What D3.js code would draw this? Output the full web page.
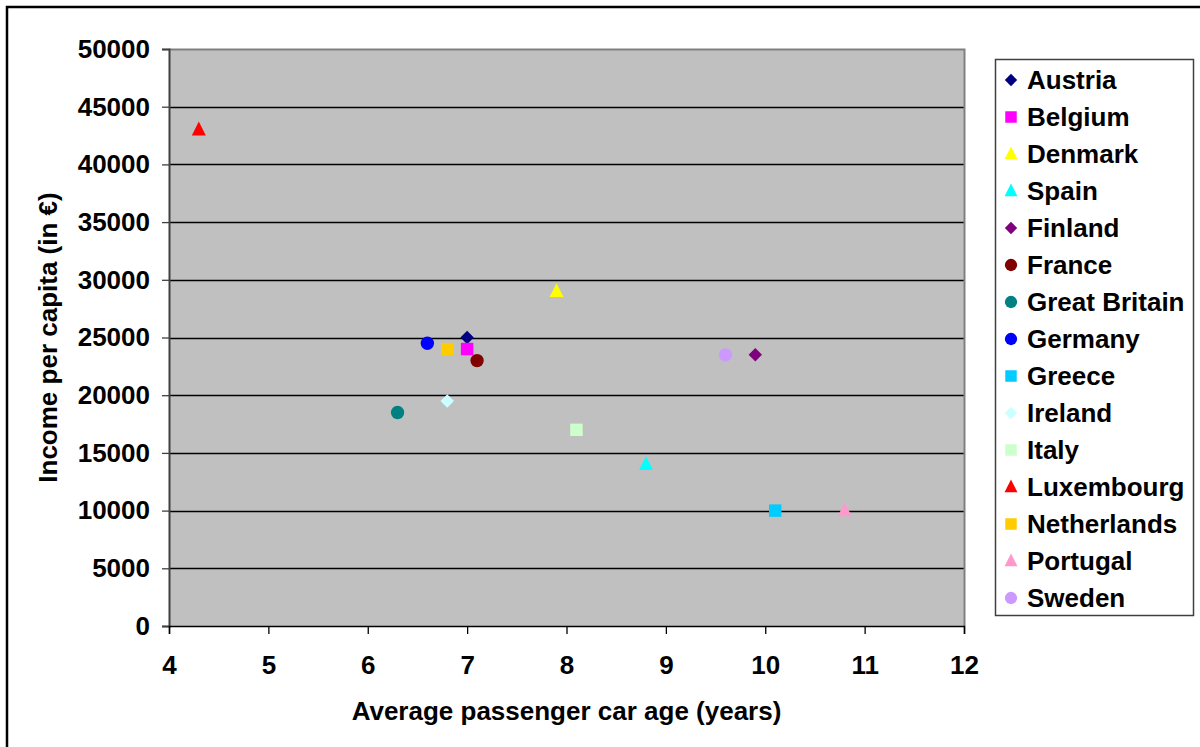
<!DOCTYPE html>
<html>
<head>
<meta charset="utf-8">
<script src="https://cdn.jsdelivr.net/npm/d3@7"></script>
<style>
  html, body { margin: 0; padding: 0; background: #fff; }
  svg { display: block; }
  text { font-family: "Liberation Sans", Arial, sans-serif; font-weight: bold; fill: #000; }
</style>
</head>
<body>
<svg id="chart" width="1200" height="747"></svg>
<script>
// Countries, their average car age (years) and income per capita (EUR)
const countries = ["Austria", "Belgium", "Denmark", "Spain", "Finland", "France", "Great Britain",
  "Germany", "Greece", "Ireland", "Italy", "Luxembourg", "Netherlands", "Portugal", "Sweden"];
const carAge = [7.0, 7.0, 7.9, 8.8, 9.9, 7.1, 6.3, 6.6, 10.1, 6.8, 8.1, 4.3, 6.8, 10.8, 9.6];
const income = [25000, 24000, 29000, 14000, 23500, 23000, 18500, 24500, 10000, 19500, 17000, 43000, 24000, 10000, 23500];
const markerShapes = ["diamond", "square", "triangle", "triangle", "diamond", "circle", "circle",
  "circle", "square", "diamond", "square", "triangle", "square", "triangle", "circle"];
const markerColors = ["#000080", "#FF00FF", "#FFFF00", "#00FFFF", "#800080", "#800000", "#008080",
  "#0000FF", "#00CCFF", "#CCFFFF", "#CCFFCC", "#FF0000", "#FFCC00", "#FF99CC", "#CC99FF"];
const xTicks = [4, 5, 6, 7, 8, 9, 10, 11, 12];
const yTicks = [0, 5000, 10000, 15000, 20000, 25000, 30000, 35000, 40000, 45000, 50000];

const svg = d3.select("#chart");

// Outer chart frame (runs off the right and bottom edges)
svg.append("rect")
  .attr("x", 7).attr("y", 7).attr("width", 1300).attr("height", 800)
  .attr("fill", "none").attr("stroke", "#000").attr("stroke-width", 2.5);

const plot = { left: 169, right: 964, top: 49, bottom: 626 };
const x = d3.scaleLinear().domain([4, 12]).range([plot.left, plot.right]);
const y = d3.scaleLinear().domain([0, 50000]).range([plot.bottom, plot.top]);

// Plot background
svg.append("rect")
  .attr("x", plot.left).attr("y", plot.top)
  .attr("width", plot.right - plot.left).attr("height", plot.bottom - plot.top)
  .attr("fill", "#C0C0C0");

// Horizontal gridlines
svg.append("g").selectAll("line")
  .data(yTicks.filter(t => t > 0 && t < 50000))
  .join("line")
  .attr("x1", plot.left).attr("x2", plot.right)
  .attr("y1", d => Math.round(y(d)) + 0.5).attr("y2", d => Math.round(y(d)) + 0.5)
  .attr("stroke", "#000").attr("stroke-width", 1.3);

// Top and right edges of plot area
svg.append("path")
  .attr("d", `M${plot.left},${plot.top + 0.5}H${plot.right + 0.5}V${plot.bottom}`)
  .attr("fill", "none").attr("stroke", "#808080").attr("stroke-width", 2);

// Y axis
const yAxis = svg.append("g")
  .attr("transform", `translate(${plot.left},0)`)
  .call(d3.axisLeft(y).tickValues(yTicks).tickFormat(d3.format("d")).tickSizeOuter(0).tickSize(7).tickPadding(12));
yAxis.select(".domain").attr("stroke", "#404040").attr("stroke-width", 2);
yAxis.selectAll(".tick line").attr("stroke", "#404040").attr("stroke-width", 1.3);
yAxis.selectAll("text").style("font-size", "26px").style("font-family", "'Liberation Sans', Arial, sans-serif")
  .style("font-weight", "bold").attr("fill", "#000");

// X axis
const xAxis = svg.append("g")
  .attr("transform", `translate(0,${plot.bottom})`)
  .call(d3.axisBottom(x).tickValues(xTicks).tickFormat(d3.format("d")).tickSizeOuter(0).tickSize(8).tickPadding(22));
xAxis.select(".domain").attr("stroke", "#000").attr("stroke-width", 1.5);
xAxis.selectAll(".tick line").attr("stroke", "#000").attr("stroke-width", 1.3);
xAxis.selectAll("text").style("font-size", "26px").style("font-family", "'Liberation Sans', Arial, sans-serif")
  .style("font-weight", "bold").attr("fill", "#000");

// Axis titles
svg.append("text")
  .attr("x", (plot.left + plot.right) / 2).attr("y", 720)
  .attr("text-anchor", "middle").style("font-size", "26px")
  .text("Average passenger car age (years)");
svg.append("text")
  .attr("transform", `translate(57,${(plot.top + plot.bottom) / 2}) rotate(-90)`)
  .attr("text-anchor", "middle").style("font-size", "26px")
  .text("Income per capita (in €)");

// Marker generator: diamonds are rotated squares, triangles stretched slightly taller
function markerPath(shape, scale) {
  const s = scale || 1;
  if (shape === "diamond") return d3.symbol().type(d3.symbolSquare).size(90 * s)();
  if (shape === "square") return d3.symbol().type(d3.symbolSquare).size(155 * s)();
  if (shape === "triangle") return d3.symbol().type(d3.symbolTriangle).size(100 * s)();
  return d3.symbol().type(d3.symbolCircle).size(140 * s)();
}
function markerTransform(shape, cx, cy) {
  if (shape === "diamond") return `translate(${cx},${cy}) rotate(45)`;
  if (shape === "triangle") return `translate(${cx},${cy + 1}) scale(0.92,1.05)`;
  return `translate(${cx},${cy})`;
}

// Data points
svg.append("g").selectAll("path")
  .data(countries.map((c, i) => i))
  .join("path")
  .attr("d", i => markerPath(markerShapes[i]))
  .attr("transform", i => markerTransform(markerShapes[i], x(carAge[i]), y(income[i])))
  .attr("fill", i => markerColors[i]);

// Legend
const legend = { left: 995, top: 59, width: 198, height: 556, rowStart: 80, rowStep: 37 };
svg.append("rect")
  .attr("x", legend.left + 0.5).attr("y", legend.top + 0.5)
  .attr("width", legend.width).attr("height", legend.height)
  .attr("fill", "#fff").attr("stroke", "#404040").attr("stroke-width", 1.5);
const items = svg.append("g").selectAll("g")
  .data(countries.map((c, i) => i))
  .join("g")
  .attr("transform", i => `translate(0,${legend.rowStart + i * legend.rowStep})`);
items.append("path")
  .attr("d", i => markerPath(markerShapes[i], 0.85))
  .attr("transform", i => markerTransform(markerShapes[i], 1011, 0))
  .attr("fill", i => markerColors[i]);
items.append("text")
  .attr("x", 1027).attr("y", 9)
  .style("font-size", "26px")
  .text(i => countries[i]);
</script>
</body>
</html>
